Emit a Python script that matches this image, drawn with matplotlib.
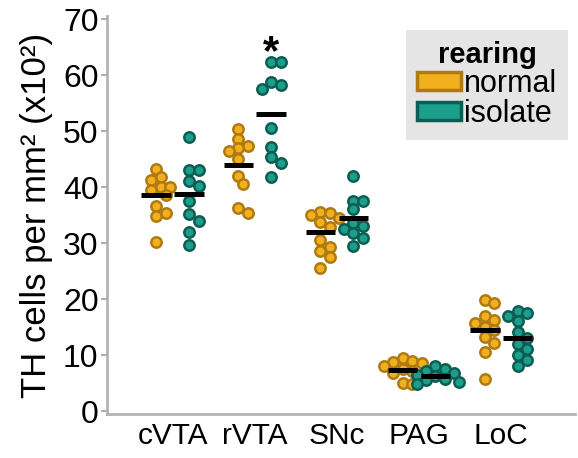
import matplotlib
matplotlib.use("Agg")
import matplotlib.pyplot as plt
from matplotlib.patches import Patch
import numpy as np

plt.rcParams["font.family"] = ["Liberation Sans", "DejaVu Sans"]

regions = ["cVTA", "rVTA", "SNc", "PAG", "LoC"]
groups = ["normal", "isolate"]

normal = [
    [43.3, 41.8, 41.2, 40.0, 40.0, 39.5, 38.5, 36.6, 35.4, 34.8, 30.2],
    [50.4, 48.6, 47.3, 47.0, 46.5, 45.0, 42.0, 40.5, 36.3, 35.4],
    [35.6, 35.3, 35.0, 34.5, 33.8, 32.8, 30.5, 29.3, 28.5, 27.5, 25.5],
    [9.5, 9.0, 8.8, 8.5, 8.0, 7.5, 7.2, 6.8, 6.5, 5.0, 4.8],
    [19.8, 19.3, 17.0, 16.3, 15.7, 15.0, 14.5, 13.2, 12.2, 10.5, 5.8],
]
isolate = [
    [49.0, 43.0, 43.0, 41.0, 40.2, 37.5, 35.2, 34.0, 32.0, 29.7],
    [62.3, 62.3, 58.8, 58.3, 57.6, 50.5, 47.1, 45.4, 44.3, 41.8],
    [42.0, 37.6, 37.6, 36.0, 33.5, 33.0, 32.6, 31.8, 30.9, 29.4],
    [8.0, 7.5, 7.2, 6.8, 6.5, 6.2, 5.8, 5.5, 5.2, 4.8],
    [17.8, 17.5, 17.0, 16.0, 14.2, 13.0, 12.0, 11.0, 10.0, 9.2, 8.0],
]
normal_means = [38.5, 44.0, 32.0, 7.3, 14.5]
isolate_means = [38.7, 53.0, 34.5, 6.2, 13.0]

face = {"normal": "#f2b01e", "isolate": "#1c9e8c"}
edge = {"normal": "#b07a12", "isolate": "#0d5e52"}


def swarm(vals, dy, dx):
    # simple beeswarm: place each point at the smallest offset that doesn't overlap
    placed = []
    offs = []
    for v in vals:
        for k in range(0, 20):
            cands = [0.0] if k == 0 else [k * dx * 0.5, -k * dx * 0.5]
            ok = None
            for c in cands:
                if all(((c - po) / dx) ** 2 + ((v - pv) / dy) ** 2 >= 1.0 for po, pv in placed):
                    ok = c
                    break
            if ok is not None:
                break
        placed.append((ok, v))
        offs.append(ok)
    return np.array(offs)


fig = plt.figure(figsize=(5.78, 4.58), dpi=100)
ax = fig.add_axes([0.185, 0.0964, 0.81, 0.868])

xs = np.arange(len(regions))
for i in range(len(regions)):
    for g, vals, means, sh in [("normal", normal[i], normal_means[i], -0.2),
                               ("isolate", isolate[i], isolate_means[i], 0.2)]:
        v = np.array(vals)
        off = swarm(v, 1.6, 0.115)
        ax.scatter(xs[i] + sh + off, v, s=56, facecolor=face[g], edgecolor=edge[g],
                   linewidth=1.8, zorder=3)
        ax.plot([xs[i] + sh - 0.18, xs[i] + sh + 0.18], [means, means],
                color="black", lw=3.6, solid_capstyle="butt", zorder=4)

ax.text(xs[1] + 0.2, 60.3, "*", ha="center", va="bottom", fontsize=30, fontweight="bold")

ax.set_xlim(-0.8, 4.9)
ax.set_ylim(-0.5, 70.5)
ax.set_yticks(range(0, 71, 10))
ax.set_xticks(xs)
ax.set_xticklabels(regions, fontsize=21.5)
ax.tick_params(axis="y", labelsize=23, color="#b0b0b0", length=4, width=1.5, pad=2)
ax.tick_params(axis="x", length=0, pad=6)
for s in ["top", "right"]:
    ax.spines[s].set_visible(False)
for s in ["left", "bottom"]:
    ax.spines[s].set_color("#b3b3b3")
    ax.spines[s].set_linewidth(2)
ax.set_ylabel("TH cells per mm² (x10²)", fontsize=25, labelpad=7)

handles = [Patch(facecolor=face[g], edgecolor=edge[g], linewidth=2.5) for g in groups]
leg = ax.legend(handles, groups, title="rearing", loc="upper right",
                bbox_to_anchor=(0.985, 0.965), fontsize=22, title_fontsize=21,
                frameon=True, fancybox=False, handlelength=1.45, handleheight=0.55,
                handletextpad=0.1, labelspacing=0.0, borderpad=0.35, borderaxespad=0)
leg.get_title().set_fontweight("bold")
leg.get_frame().set_facecolor("#e5e5e5")
leg.get_frame().set_edgecolor("none")
leg.get_frame().set_alpha(1)

fig.savefig("out.png", dpi=100)
